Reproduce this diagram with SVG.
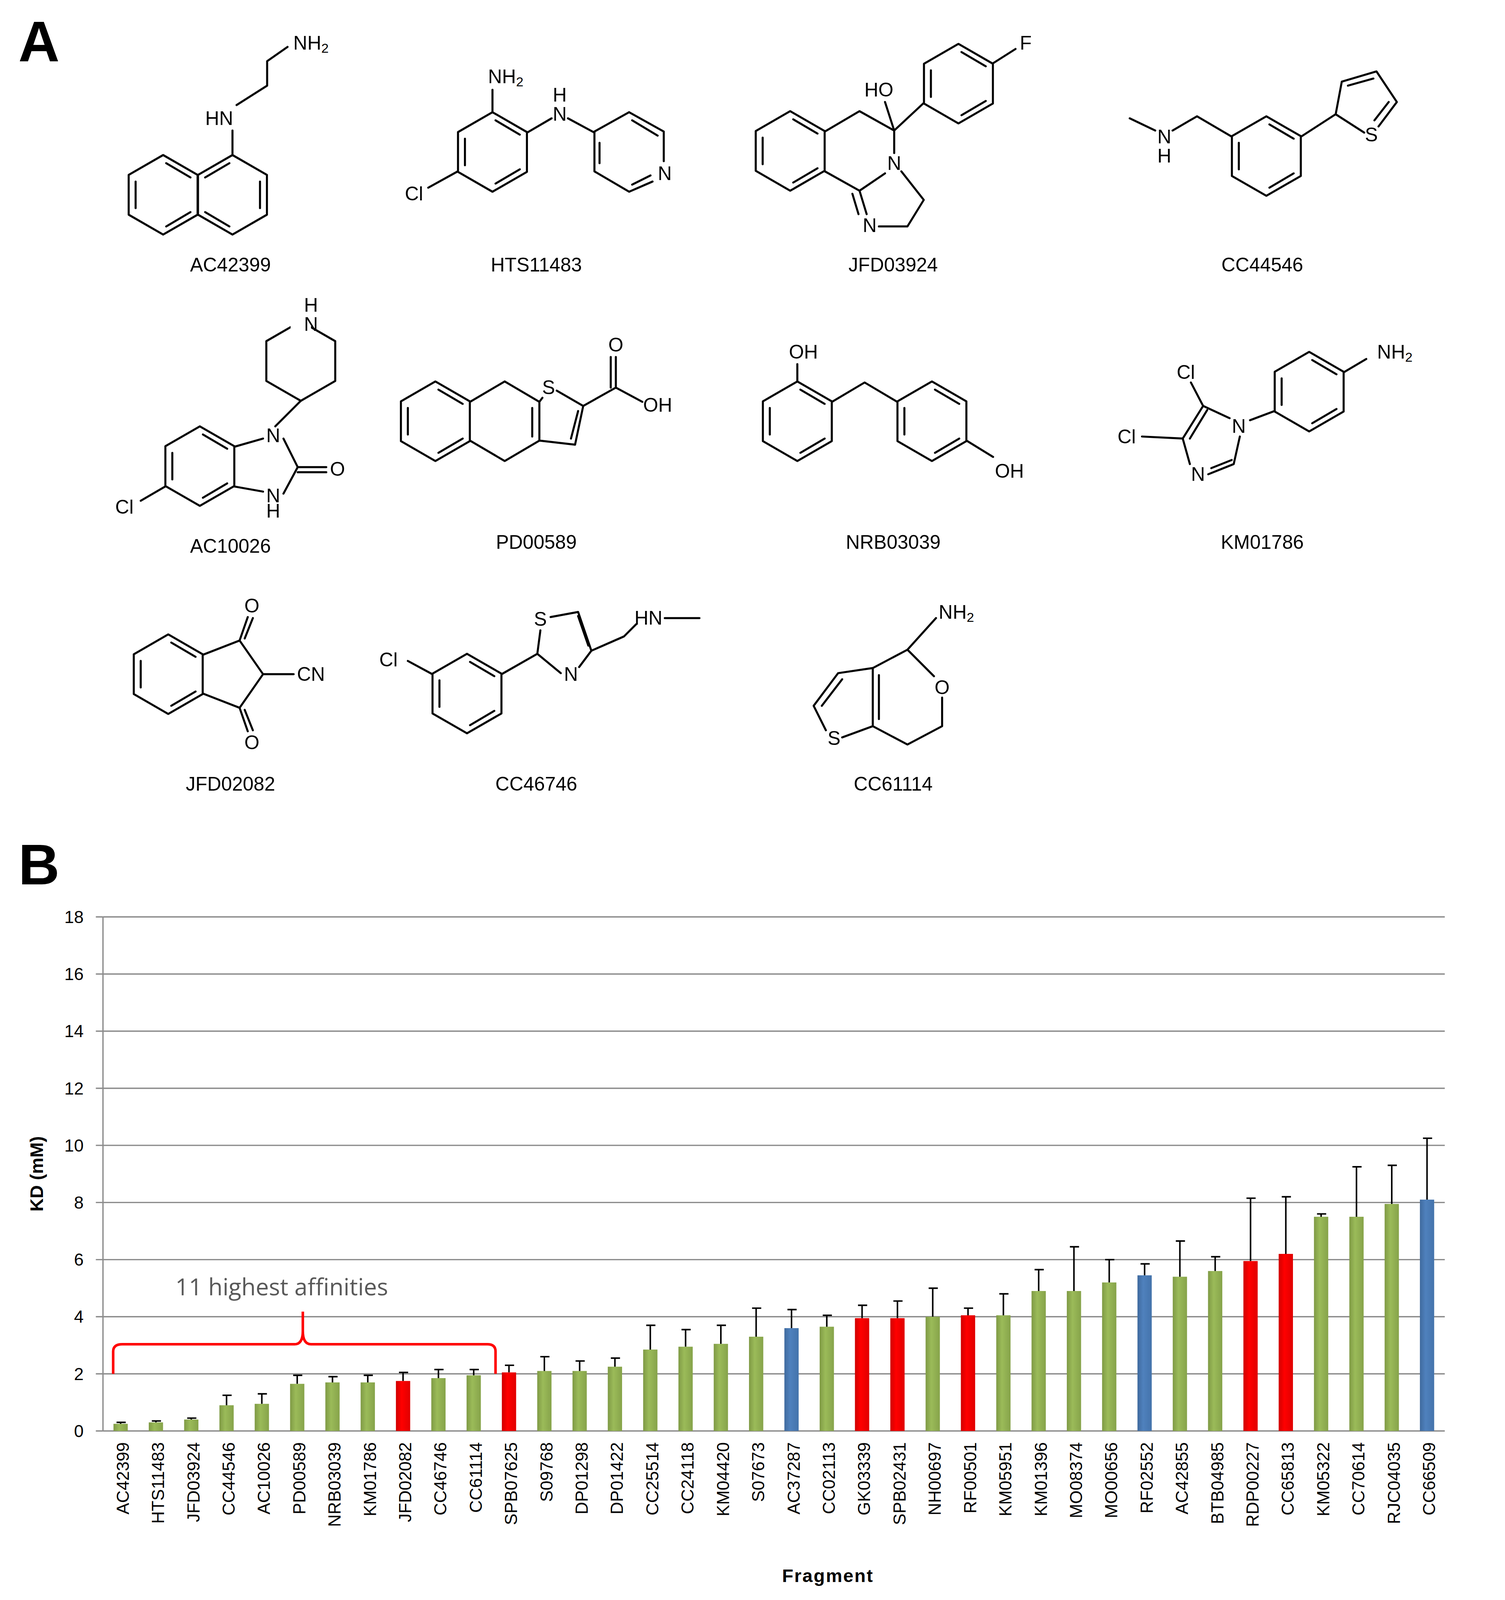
<svg xmlns="http://www.w3.org/2000/svg" xmlns:xlink="http://www.w3.org/1999/xlink" width="3854" height="4214" viewBox="0 0 3854 4214">
<style>
.b{fill:none;stroke:#000;stroke-width:2;stroke-linecap:round;stroke-linejoin:round}
.a{font-family:"Liberation Sans",Arial,sans-serif;font-size:19px;fill:#000;text-anchor:middle;dominant-baseline:central}
.lab{font-family:"Liberation Sans",Arial,sans-serif;font-size:19px;fill:#000;text-anchor:middle}
.big{font-family:"Liberation Sans",Arial,sans-serif;font-size:56px;font-weight:bold;fill:#000}
.tk{font-family:"Liberation Sans",Arial,sans-serif;font-size:17px;fill:#000;text-anchor:end}
.cat{font-family:"Liberation Sans",Arial,sans-serif;font-size:17px;fill:#000;text-anchor:end;dominant-baseline:central}
.grid{stroke:#8c8c8c;stroke-width:1.3}
.g{fill:url(#gg)}.r{fill:url(#gr)}.u{fill:url(#gb)}
.e{fill:none;stroke:#000;stroke-width:1.5}
</style>
<defs>
<linearGradient id="gg" x1="0" x2="1"><stop offset="0" stop-color="#7f9a45"/><stop offset="0.4" stop-color="#9bbb59"/><stop offset="1" stop-color="#86a34a"/></linearGradient>
<linearGradient id="gr" x1="0" x2="1"><stop offset="0" stop-color="#d00000"/><stop offset="0.4" stop-color="#ff0000"/><stop offset="1" stop-color="#e00000"/></linearGradient>
<linearGradient id="gb" x1="0" x2="1"><stop offset="0" stop-color="#3f6a9e"/><stop offset="0.4" stop-color="#4f81bd"/><stop offset="1" stop-color="#4473ab"/></linearGradient>
<path id="hex" class="b" d="M0,-39 L33.8,-19.5 L33.8,19.5 L0,39 L-33.8,19.5 L-33.8,-19.5Z"/>
<g id="benz"><use xlink:href="#hex"/><path class="b" d="M3,-31 L26.8,-17 M26.8,17 L3,31 M-27,13 L-27,-13"/></g>
</defs>
<rect width="3854" height="4214" fill="#fff"/>
<g transform="scale(2.611)">
<text class="big" x="18" y="60">A</text>
<text class="big" x="18" y="867">B</text>

<g id="m-AC42399">
<use xlink:href="#benz" transform="translate(160,191)"/>
<use xlink:href="#benz" transform="translate(228,191) rotate(180)"/>
<path class="b" d="M228,152 L228,128 M232,103 L262,84 L262,60 L282,46"/>
<text class="a" x="215" y="116">HN</text><text class="a" x="305" y="42">NH<tspan font-size="13" dy="5">2</tspan></text>
<text class="lab" x="226" y="266">AC42399</text></g>

<g id="m-HTS11483">
<use xlink:href="#benz" transform="translate(483,149)"/>
<path class="b" d="M617,110 L651,129 L651,158 M640,178 L617,188 L583,168 L583,129 L617,110"/>
<path class="b" d="M620,118 L645,133 M638,172 L620,181 M588,140 L588,160"/>
<path class="b" d="M483,110 L483,88 M449,168 L420,184 M517,130 L541,116 M557,116 L583,130"/>
<text class="a" x="496" y="75">NH<tspan font-size="13" dy="5">2</tspan></text><text class="a" x="406" y="190">Cl</text>
<text class="a" x="549" y="112">N</text><text class="a" x="549" y="93">H</text><text class="a" x="652" y="170">N</text>
<text class="lab" x="526" y="266">HTS11483</text></g>

<g id="m-JFD03924">
<use xlink:href="#benz" transform="translate(775,148)"/>
<path class="b" d="M809,129 L843,109 L877,128 L877,150 M868,170 L843,187 L809,168 M843,187 L850,210 M836,190 L842,210 M862,222 L890,222 L906,196 L884,168"/>
<use xlink:href="#benz" transform="translate(940,82)"/>
<path class="b" d="M877,128 L906,101 M877,128 L868,100 M974,62 L996,48"/>
<text class="a" x="862" y="88">HO</text><text class="a" x="1006" y="42">F</text><text class="a" x="877" y="160">N</text><text class="a" x="853" y="221">N</text>
<text class="lab" x="876" y="266">JFD03924</text></g>

<g id="m-CC44546">
<use xlink:href="#benz" transform="translate(1242,153)"/>
<path class="b" d="M1208,134 L1174,114 L1150,128 M1133,128 L1108,116 M1276,134 L1310,112 L1316,80 L1350,70 L1370,100 L1352,124 M1338,130 L1310,112 M1322,84 L1347,77 M1362,100 L1348,118"/>
<text class="a" x="1142" y="134">N</text><text class="a" x="1142" y="153">H</text><text class="a" x="1345" y="132">S</text>
<text class="lab" x="1238" y="266">CC44546</text></g>

<g id="m-AC10026">
<use xlink:href="#benz" transform="translate(196,457)"/>
<use xlink:href="#hex" transform="translate(295,354)"/>
<path class="b" d="M230,438 L258,430 M278,430 L292,458 L278,484 M258,482 L230,477 M292,458 L320,458 M292,463 L320,463 M162,477 L138,491 M295,393 L270,418"/>
<rect x="285" y="303" width="20" height="22" fill="#fff"/>
<text class="a" x="268" y="486">N</text><text class="a" x="268" y="427">N</text><text class="a" x="268" y="501">H</text><text class="a" x="331" y="460">O</text><text class="a" x="122" y="497">Cl</text>
<text class="a" x="305" y="318">N</text><text class="a" x="305" y="299">H</text>
<text class="lab" x="226" y="542">AC10026</text></g>

<g id="m-PD00589">
<use xlink:href="#benz" transform="translate(427,413)"/>
<path class="b" d="M461,394 L495,374 L529,394 L529,432 L495,452 L461,432 M522,400 L522,428 M529,394 L532,390 M546,383 L572,398 L564,436 L529,432 M567,403 L560,430 M572,398 L604,380 L604,350 M599,380 L599,350 M604,380 L630,394"/>
<text class="a" x="538" y="380">S</text><text class="a" x="604" y="338">O</text><text class="a" x="645" y="397">OH</text>
<text class="lab" x="526" y="538">PD00589</text></g>

<g id="m-NRB03039">
<use xlink:href="#benz" transform="translate(782,413)"/>
<use xlink:href="#benz" transform="translate(914,413)"/>
<path class="b" d="M782,374 L782,357 M816,394 L848,375 L880,394 M948,432 L974,448"/>
<text class="a" x="788" y="345">OH</text><text class="a" x="990" y="462">OH</text>
<text class="lab" x="876" y="538">NRB03039</text></g>

<g id="m-KM01786">
<use xlink:href="#benz" transform="translate(1284,384)"/>
<path class="b" d="M1206,410 L1180,398 L1160,430 L1167,455 M1184,402 L1167,430 M1185,465 L1210,455 L1216,428 M1188,459 L1208,451 M1180,398 L1168,375 M1160,430 L1120,428 M1226,412 L1250,403 M1318,365 L1340,352"/>
<text class="a" x="1215" y="418">N</text><text class="a" x="1175" y="465">N</text><text class="a" x="1163" y="365">Cl</text><text class="a" x="1105" y="428">Cl</text>
<text class="a" x="1368" y="345">NH<tspan font-size="13" dy="5">2</tspan></text>
<text class="lab" x="1238" y="538">KM01786</text></g>

<g id="m-JFD02082">
<use xlink:href="#benz" transform="translate(165,661)"/>
<path class="b" d="M199,642 L235,628 L258,661 L235,694 L199,680 M235,628 L243,605 M240,626 L248,606 M235,694 L243,717 M240,696 L248,716 M258,661 L288,661"/>
<text class="a" x="247" y="594">O</text><text class="a" x="247" y="728">O</text><text class="a" x="305" y="661">CN</text>
<text class="lab" x="226" y="775">JFD02082</text></g>

<g id="m-CC46746">
<use xlink:href="#benz" transform="translate(458,680)"/>
<path class="b" d="M424,661 L400,648 M492,661 L527,641 L530,618 M540,605 L567,600 L580,638 L568,654 M550,660 L527,641 M567,604 L577,633 M580,638 L612,624 L624,612 M652,606 L686,606"/>
<text class="a" x="381" y="647">Cl</text><text class="a" x="530" y="607">S</text><text class="a" x="560" y="661">N</text><text class="a" x="636" y="606">HN</text>
<text class="lab" x="526" y="775">CC46746</text></g>

<g id="m-CC61114">
<path class="b" d="M856,655 L890,637 L916,663 M924,684 L924,712 L890,730 L856,712 L856,655 M862,662 L862,705 M890,637 L918,606 M856,655 L822,660 L798,692 L810,716 M826,723 L856,712 M826,666 L806,692"/>
<text class="a" x="924" y="674">O</text><text class="a" x="818" y="724">S</text><text class="a" x="938" y="600">NH<tspan font-size="13" dy="5">2</tspan></text>
<text class="lab" x="876" y="775">CC61114</text></g>

<g id="chart">
<g class="grid"><path d="M101,899H1417M101,955H1417M101,1011H1417M101,1067H1417M101,1123H1417M101,1179H1417M101,1235H1417M101,1291H1417M101,1347H1417M101,1403H1417"/></g>
<path d="M101,899V1403" stroke="#8c8c8c" stroke-width="1.3"/>
<path d="M94,899H101M94,955H101M94,1011H101M94,1067H101M94,1123H101M94,1179H101M94,1235H101M94,1291H101M94,1347H101M94,1403H101" stroke="#8c8c8c" stroke-width="1.3"/>
<g class="tk"><text x="82" y="905">18</text><text x="82" y="961">16</text><text x="82" y="1017">14</text><text x="82" y="1073">12</text><text x="82" y="1129">10</text><text x="82" y="1185">8</text><text x="82" y="1241">6</text><text x="82" y="1297">4</text><text x="82" y="1353">2</text><text x="82" y="1409">0</text></g>
<text transform="translate(42,1151) rotate(-90)" font-family="'Liberation Sans',Arial,sans-serif" font-size="18" font-weight="bold" text-anchor="middle">KD (mM)</text>
<text x="812" y="1551" font-family="'Liberation Sans',Arial,sans-serif" font-size="18" font-weight="bold" text-anchor="middle" letter-spacing="1">Fragment</text>
</g>

<g id="bars">
<rect class="g" x="111.3" y="1396" width="14" height="7"/>
<rect class="g" x="145.9" y="1394.6" width="14" height="8.4"/>
<rect class="g" x="180.6" y="1391.8" width="14" height="11.2"/>
<rect class="g" x="215.2" y="1377.8" width="14" height="25.2"/>
<rect class="g" x="249.8" y="1376.4" width="14" height="26.6"/>
<rect class="g" x="284.5" y="1356.8" width="14" height="46.2"/>
<rect class="g" x="319.1" y="1355.4" width="14" height="47.6"/>
<rect class="g" x="353.7" y="1355.4" width="14" height="47.6"/>
<rect class="r" x="388.3" y="1354" width="14" height="49"/>
<rect class="g" x="423" y="1351.2" width="14" height="51.8"/>
<rect class="g" x="457.6" y="1348.4" width="14" height="54.6"/>
<rect class="r" x="492.2" y="1345.6" width="14" height="57.4"/>
<rect class="g" x="526.9" y="1344.2" width="14" height="58.8"/>
<rect class="g" x="561.5" y="1344.2" width="14" height="58.8"/>
<rect class="g" x="596.1" y="1340" width="14" height="63"/>
<rect class="g" x="630.8" y="1323.2" width="14" height="79.8"/>
<rect class="g" x="665.4" y="1320.4" width="14" height="82.6"/>
<rect class="g" x="700" y="1317.6" width="14" height="85.4"/>
<rect class="g" x="734.6" y="1310.6" width="14" height="92.4"/>
<rect class="u" x="769.3" y="1302.2" width="14" height="100.8"/>
<rect class="g" x="803.9" y="1300.8" width="14" height="102.2"/>
<rect class="r" x="838.5" y="1292.4" width="14" height="110.6"/>
<rect class="r" x="873.2" y="1292.4" width="14" height="110.6"/>
<rect class="g" x="907.8" y="1291" width="14" height="112"/>
<rect class="r" x="942.4" y="1289.6" width="14" height="113.4"/>
<rect class="g" x="977.1" y="1289.6" width="14" height="113.4"/>
<rect class="g" x="1011.7" y="1265.8" width="14" height="137.2"/>
<rect class="g" x="1046.3" y="1265.8" width="14" height="137.2"/>
<rect class="g" x="1080.9" y="1257.4" width="14" height="145.6"/>
<rect class="u" x="1115.6" y="1250.4" width="14" height="152.6"/>
<rect class="g" x="1150.2" y="1251.8" width="14" height="151.2"/>
<rect class="g" x="1184.8" y="1246.2" width="14" height="156.8"/>
<rect class="r" x="1219.5" y="1236.4" width="14" height="166.6"/>
<rect class="r" x="1254.1" y="1229.4" width="14" height="173.6"/>
<rect class="g" x="1288.7" y="1193" width="14" height="210"/>
<rect class="g" x="1323.4" y="1193" width="14" height="210"/>
<rect class="g" x="1358" y="1180.4" width="14" height="222.6"/>
<rect class="u" x="1392.6" y="1176.2" width="14" height="226.8"/>
</g>
<g id="errorbars" class="e">
<path d="M118.3,1396V1394.6M114.3,1394.6H123.3"/>
<path d="M152.9,1394.6V1393.2M148.9,1393.2H157.9"/>
<path d="M187.6,1391.8V1390.4M183.6,1390.4H192.6"/>
<path d="M222.2,1377.8V1368M218.2,1368H227.2"/>
<path d="M256.8,1376.4V1366.6M252.8,1366.6H261.8"/>
<path d="M291.5,1356.8V1348.4M287.5,1348.4H296.5"/>
<path d="M326.1,1355.4V1349.8M322.1,1349.8H331.1"/>
<path d="M360.7,1355.4V1348.4M356.7,1348.4H365.7"/>
<path d="M395.3,1354V1345.6M391.3,1345.6H400.3"/>
<path d="M430,1351.2V1342.8M426,1342.8H435"/>
<path d="M464.6,1348.4V1342.8M460.6,1342.8H469.6"/>
<path d="M499.2,1345.6V1338.6M495.2,1338.6H504.2"/>
<path d="M533.9,1344.2V1330.2M529.9,1330.2H538.9"/>
<path d="M568.5,1344.2V1334.4M564.5,1334.4H573.5"/>
<path d="M603.1,1340V1331.6M599.1,1331.6H608.1"/>
<path d="M637.8,1323.2V1299.4M633.8,1299.4H642.8"/>
<path d="M672.4,1320.4V1303.6M668.4,1303.6H677.4"/>
<path d="M707,1317.6V1299.4M703,1299.4H712"/>
<path d="M741.6,1310.6V1282.6M737.6,1282.6H746.6"/>
<path d="M776.3,1302.2V1284M772.3,1284H781.3"/>
<path d="M810.9,1300.8V1289.6M806.9,1289.6H815.9"/>
<path d="M845.5,1292.4V1279.8M841.5,1279.8H850.5"/>
<path d="M880.2,1292.4V1275.6M876.2,1275.6H885.2"/>
<path d="M914.8,1291V1263M910.8,1263H919.8"/>
<path d="M949.4,1289.6V1282.6M945.4,1282.6H954.4"/>
<path d="M984.1,1289.6V1268.6M980.1,1268.6H989.1"/>
<path d="M1018.7,1265.8V1244.8M1014.7,1244.8H1023.7"/>
<path d="M1053.3,1265.8V1222.4M1049.3,1222.4H1058.3"/>
<path d="M1087.9,1257.4V1235M1083.9,1235H1092.9"/>
<path d="M1122.6,1250.4V1239.2M1118.6,1239.2H1127.6"/>
<path d="M1157.2,1251.8V1216.8M1153.2,1216.8H1162.2"/>
<path d="M1191.8,1246.2V1232.2M1187.8,1232.2H1196.8"/>
<path d="M1226.5,1236.4V1174.8M1222.5,1174.8H1231.5"/>
<path d="M1261.1,1229.4V1173.4M1257.1,1173.4H1266.1"/>
<path d="M1295.7,1193V1190.2M1291.7,1190.2H1300.7"/>
<path d="M1330.4,1193V1144M1326.4,1144H1335.4"/>
<path d="M1365,1180.4V1142.6M1361,1142.6H1370"/>
<path d="M1399.6,1176.2V1116M1395.6,1116H1404.6"/>
</g>
<g id="categories" class="cat">
<text transform="translate(120.3,1414) rotate(-90)">AC42399</text>
<text transform="translate(154.9,1414) rotate(-90)">HTS11483</text>
<text transform="translate(189.6,1414) rotate(-90)">JFD03924</text>
<text transform="translate(224.2,1414) rotate(-90)">CC44546</text>
<text transform="translate(258.8,1414) rotate(-90)">AC10026</text>
<text transform="translate(293.5,1414) rotate(-90)">PD00589</text>
<text transform="translate(328.1,1414) rotate(-90)">NRB03039</text>
<text transform="translate(362.7,1414) rotate(-90)">KM01786</text>
<text transform="translate(397.3,1414) rotate(-90)">JFD02082</text>
<text transform="translate(432,1414) rotate(-90)">CC46746</text>
<text transform="translate(466.6,1414) rotate(-90)">CC61114</text>
<text transform="translate(501.2,1414) rotate(-90)">SPB07625</text>
<text transform="translate(535.9,1414) rotate(-90)">S09768</text>
<text transform="translate(570.5,1414) rotate(-90)">DP01298</text>
<text transform="translate(605.1,1414) rotate(-90)">DP01422</text>
<text transform="translate(639.8,1414) rotate(-90)">CC25514</text>
<text transform="translate(674.4,1414) rotate(-90)">CC24118</text>
<text transform="translate(709,1414) rotate(-90)">KM04420</text>
<text transform="translate(743.6,1414) rotate(-90)">S07673</text>
<text transform="translate(778.3,1414) rotate(-90)">AC37287</text>
<text transform="translate(812.9,1414) rotate(-90)">CC02113</text>
<text transform="translate(847.5,1414) rotate(-90)">GK03339</text>
<text transform="translate(882.2,1414) rotate(-90)">SPB02431</text>
<text transform="translate(916.8,1414) rotate(-90)">NH00697</text>
<text transform="translate(951.4,1414) rotate(-90)">RF00501</text>
<text transform="translate(986.1,1414) rotate(-90)">KM05951</text>
<text transform="translate(1020.7,1414) rotate(-90)">KM01396</text>
<text transform="translate(1055.3,1414) rotate(-90)">MO08374</text>
<text transform="translate(1089.9,1414) rotate(-90)">MO00656</text>
<text transform="translate(1124.6,1414) rotate(-90)">RF02552</text>
<text transform="translate(1159.2,1414) rotate(-90)">AC42855</text>
<text transform="translate(1193.8,1414) rotate(-90)">BTB04985</text>
<text transform="translate(1228.5,1414) rotate(-90)">RDP00227</text>
<text transform="translate(1263.1,1414) rotate(-90)">CC65813</text>
<text transform="translate(1297.7,1414) rotate(-90)">KM05322</text>
<text transform="translate(1332.4,1414) rotate(-90)">CC70614</text>
<text transform="translate(1367,1414) rotate(-90)">RJC04035</text>
<text transform="translate(1401.6,1414) rotate(-90)">CC66509</text>
</g>
<g id="bracket">
<path d="M111,1347 V1325 Q111,1318 120,1318 H289 Q297,1318 297,1305 V1286 M297,1286 V1305 Q297,1318 305,1318 H478 Q486,1318 486,1325 V1347" fill="none" stroke="#ff0000" stroke-width="2.5"/>
<text x="172" y="1270" font-family="'Open Sans','Noto Sans',sans-serif" font-size="23" fill="#595959">11 highest affinities</text>
</g>
</g>
</svg>
